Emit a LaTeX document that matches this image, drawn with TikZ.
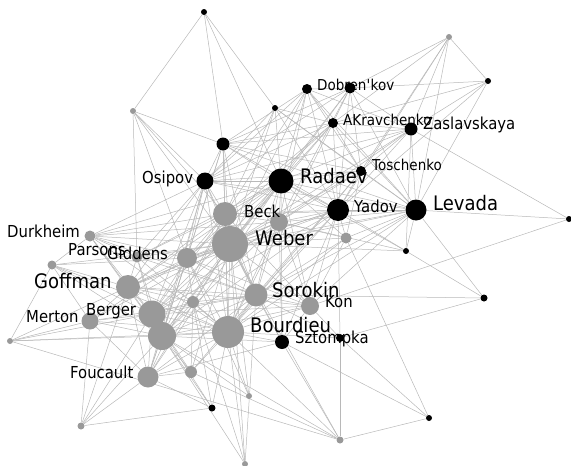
\documentclass[tikz,border=0pt]{standalone}
\usepackage{fontspec}
\setmainfont{DejaVu Sans}[FakeStretch=0.9]
\definecolor{nodegray}{HTML}{999999}
\definecolor{edgegray}{HTML}{B8B8B8}
\pgfdeclarelayer{bg}
\pgfsetlayers{bg,main}
\tikzset{
  gn/.style={circle,fill=nodegray,draw=none,inner sep=0pt,minimum size=#1},
  bn/.style={circle,fill=black,draw=none,inner sep=0pt,minimum size=#1},
  edge/.style={draw=edgegray,line width=0.5pt},
  lab/.style={anchor=base west,inner sep=0pt,text=black},
  bigl/.style={lab,font=\fontsize{20}{24}\selectfont},
  midl/.style={lab,font=\fontsize{16.5}{20}\selectfont},
  sml/.style={lab,font=\fontsize{15}{18}\selectfont}
}
\begin{document}
\begin{tikzpicture}[x=1pt,y=-1pt]
\useasboundingbox (0,0) rectangle (571,466);
% black nodes
\node[bn=6pt] (t1) at (204,12) {};
\node[bn=6pt] (b1) at (275,108) {};
\node[bn=10pt] (dob) at (307,89) {};
\node[bn=11pt] (b2) at (350,88) {};
\node[bn=10pt] (akr) at (333,123) {};
\node[bn=13pt] (zas) at (411,129) {};
\node[bn=10pt] (tos) at (361,171) {};
\node[bn=25pt] (rad) at (281,181) {};
\node[bn=13pt] (b3) at (223,144) {};
\node[bn=17pt] (osi) at (205,181) {};
\node[bn=22pt] (yad) at (338,210) {};
\node[bn=21pt] (lev) at (416,210) {};
\node[bn=6pt] (b4) at (488,81) {};
\node[bn=6pt] (b5) at (569,219) {};
\node[bn=6pt] (b6) at (406,251) {};
\node[bn=7pt] (b7) at (484,298) {};
\node[bn=8pt] (b8) at (340,338) {};
\node[bn=14pt] (szt) at (282,342) {};
\node[bn=6pt] (b9) at (429,418) {};
\node[bn=7pt] (b10) at (212,408) {};
% gray nodes
\node[gn=6pt] (g1) at (133,111) {};
\node[gn=6pt] (g2) at (449,37) {};
\node[gn=11pt] (dur) at (90,236) {};
\node[gn=9pt] (g3) at (52,265) {};
\node[gn=11pt] (g4) at (137,257) {};
\node[gn=20pt] (gid) at (187,258) {};
\node[gn=24pt] (beck) at (225,214) {};
\node[gn=36pt] (web) at (230,244) {};
\node[gn=18pt] (g5) at (279,222) {};
\node[gn=11pt] (g6) at (346,238) {};
\node[gn=24pt] (gof) at (128,287) {};
\node[gn=12pt] (g7) at (193,302) {};
\node[gn=23pt] (sor) at (256,295) {};
\node[gn=18pt] (kon) at (310,306) {};
\node[gn=17pt] (mer) at (90,321) {};
\node[gn=27pt] (ber) at (152,314) {};
\node[gn=28pt] (g8) at (162,336) {};
\node[gn=32pt] (bou) at (228,332) {};
\node[gn=21pt] (fou) at (148,377) {};
\node[gn=12pt] (g9) at (191,372) {};
\node[gn=6pt] (g10) at (249,396) {};
\node[gn=6pt] (g11) at (10,341) {};
\node[gn=7pt] (g12) at (81,426) {};
\node[gn=6pt] (g13) at (245,464) {};
\node[gn=7pt] (g14) at (340,440) {};
% edges
\begin{pgfonlayer}{bg}
\foreach \a/\b in {
t1/g1,t1/b3,t1/b1,t1/rad,
g1/b3,g1/g4,g1/gid,g1/beck,g1/web,g1/osi,
b1/rad,b1/osi,b1/yad,b1/akr,b1/web,b1/tos,b1/lev,b1/beck,
dob/b2,dob/akr,dob/rad,dob/osi,dob/b3,dob/yad,dob/lev,dob/web,dob/beck,dob/zas,dob/tos,dob/g5,
b2/g2,b2/b4,b2/akr,b2/rad,b2/yad,b2/lev,b2/osi,b2/b3,b2/zas,b2/tos,b2/web,b2/g5,
g2/b4,g2/zas,g2/lev,g2/yad,g2/akr,g2/tos,
b4/zas,b4/lev,b4/akr,b4/yad,
b5/zas,b5/lev,b5/kon,
zas/akr,zas/rad,zas/yad,zas/lev,zas/tos,zas/osi,zas/b3,zas/web,zas/b6,zas/g5,
lev/yad,lev/rad,lev/tos,lev/akr,lev/b6,lev/b7,lev/sor,lev/kon,lev/web,lev/g6,lev/osi,lev/b3,lev/bou,lev/beck,lev/gid,lev/g5,
b6/rad,b6/yad,b6/web,b6/b7,b6/g5,
b7/sor,b7/b8,
b8/g14,b8/yad,b8/b9,b8/kon,b8/bou,b8/sor,
szt/b9,szt/g14,szt/bou,szt/sor,szt/kon,szt/web,szt/rad,szt/yad,szt/fou,szt/g8,szt/g5,
b9/g14,b9/g6,
g14/bou,g14/g8,g14/g9,g14/g11,g14/web,
b10/g12,b10/g8,b10/ber,b10/bou,b10/fou,b10/g7,
g12/fou,g12/gof,g12/g8,g12/ber,g12/mer,
g11/mer,g11/gof,g11/g8,g11/g3,g11/ber,g11/bou,
g13/bou,g13/g8,g13/web,g13/g7,g13/sor,
g10/bou,g10/web,g10/g8,g10/gid,
osi/rad,osi/yad,osi/akr,osi/tos,osi/web,osi/beck,osi/gid,osi/bou,osi/sor,osi/ber,osi/g8,osi/gof,osi/g4,osi/dur,osi/fou,
b3/rad,b3/yad,b3/akr,b3/tos,b3/web,b3/beck,b3/gid,b3/osi,b3/bou,b3/sor,b3/g8,
rad/yad,rad/tos,rad/akr,rad/web,rad/beck,rad/g5,rad/gid,rad/bou,rad/sor,rad/ber,rad/g8,rad/gof,rad/kon,rad/g6,rad/fou,rad/dur,rad/g4,
yad/tos,yad/akr,yad/web,yad/beck,yad/g5,yad/bou,yad/sor,yad/kon,yad/gid,yad/ber,yad/g8,yad/g6,yad/gof,
akr/tos,akr/web,akr/gid,akr/bou,akr/beck,
tos/web,tos/bou,tos/sor,tos/g5,tos/g6,
dur/web,dur/gid,dur/beck,dur/bou,dur/sor,dur/gof,dur/ber,dur/g8,dur/g5,dur/g4,dur/g3,
g3/gof,g3/web,g3/gid,g3/bou,g3/ber,g3/g8,g3/mer,
g4/web,g4/bou,g4/gof,g4/ber,g4/g8,g4/sor,g4/beck,
gid/web,gid/beck,gid/bou,gid/sor,gid/gof,gid/ber,gid/g8,gid/fou,gid/g5,gid/g7,gid/kon,gid/mer,
beck/web,beck/bou,beck/sor,beck/gof,beck/ber,beck/g8,beck/g5,beck/fou,beck/kon,
web/g5,web/bou,web/sor,web/gof,web/ber,web/g8,web/fou,web/g7,web/kon,web/g6,web/mer,web/g9,
g5/bou,g5/sor,g5/ber,g5/g8,g5/gof,g5/kon,g5/g6,
gof/bou,gof/sor,gof/ber,gof/g8,gof/mer,gof/fou,gof/g7,gof/kon,
mer/ber,mer/bou,mer/g8,mer/sor,mer/fou,
ber/g8,ber/bou,ber/sor,ber/fou,ber/g7,ber/g9,ber/kon,
g8/bou,g8/sor,g8/fou,g8/g9,g8/kon,g8/g7,
bou/sor,bou/kon,bou/fou,bou/g9,bou/g7,bou/g6,
sor/kon,sor/g7,sor/fou,sor/g6,kon/g6,fou/g9,g9/g7,g9/sor}
  \draw[edge] (\a) -- (\b);
\end{pgfonlayer}
% labels
\node[sml] (ldob) at (317,90) {Dobren\textquotesingle kov};
\node[sml] (lakr) at (343,125) {AKravchenko};
\node[midl] (lzas) at (423,129) {Zaslavskaya};
\node[sml] (ltos) at (372,170) {Toschenko};
\node[bigl] (lrad) at (300,183) {Radaev};
\node[midl] (lyad) at (354,212) {Yadov};
\node[bigl] (llev) at (433,210) {Levada};
\node[midl] (losi) at (142,183) {Osipov};
\node[midl] (lbeck) at (244,217) {Beck};
\node[bigl] (lweb) at (255,245) {Weber};
\node[midl] (ldur) at (7,237) {Durkheim};
\node[midl] (lpar) at (68,255) {Parsons};
\node[midl] (lgid) at (107,259) {Giddens};
\node[bigl] (lgof) at (34,288) {Goffman};
\node[bigl] (lsor) at (272,297) {Sorokin};
\node[midl] (lkon) at (325,307) {Kon};
\node[midl] (lber) at (86,315) {Berger};
\node[midl] (lmer) at (26,322) {Merton};
\node[bigl] (lbou) at (250,332) {Bourdieu};
\node[midl] (lszt) at (295,343) {Sztompka};
\node[midl] (lfou) at (70,378) {Foucault};
\end{tikzpicture}
\end{document}
